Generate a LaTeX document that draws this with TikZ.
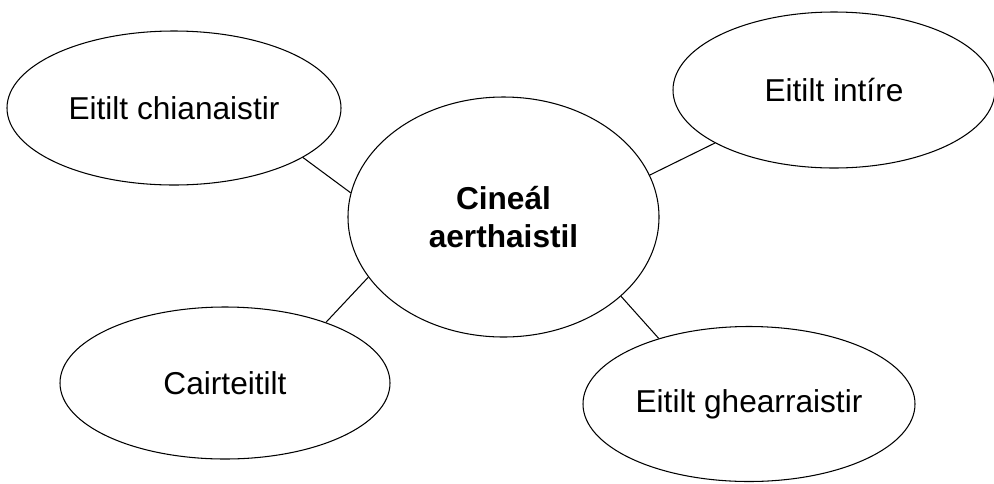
\documentclass[tikz,border=0pt]{standalone}
\usepackage{fontspec}
\setmainfont{Liberation Sans}
\usetikzlibrary{shapes.geometric}
\begin{document}
\begin{tikzpicture}
      \tikzset{bubble/.style={draw, ellipse, line width=.6pt, inner sep=0pt, font=\fontsize{18}{21.6}\selectfont, align=center}}
      \useasboundingbox (0,0) rectangle (19.88,-9.66);
%% Ellipses
	%midten
      	\node[bubble, minimum width=6.22cm, minimum height=4.8cm, font=\fontsize{18}{21.6}\selectfont\bfseries] (cen) at (10.07,-4.34) {Cineál\\aerthaistil};
	%rundt om
     	\node[bubble, minimum width=6.68cm, minimum height=3.08cm] (chian) at (3.48,-2.16) {Eitilt chianaistir};
     	\node[bubble, minimum width=6.44cm, minimum height=3.12cm] (intire) at (16.68,-1.80) {Eitilt intíre};
     	\node[bubble, minimum width=6.6cm, minimum height=3.04cm] (cairt) at (4.50,-7.66) {Cairteitilt};
     	\node[bubble, minimum width=6.64cm, minimum height=3.1cm] (ghearr) at (14.98,-8.08) {Eitilt ghearraistir};
%Lines
		\path [line width=.6pt] (chian.-21.6) edge (cen.171.7);
		\path [line width=.6pt] (intire.204.6) edge (cen.16);
		\path [line width=.6pt] (cairt.31.6) edge (cen.204.2);
		\path [line width=.6pt] (ghearr.144.8) edge (cen.-34);

\end{tikzpicture}
\end{document}
